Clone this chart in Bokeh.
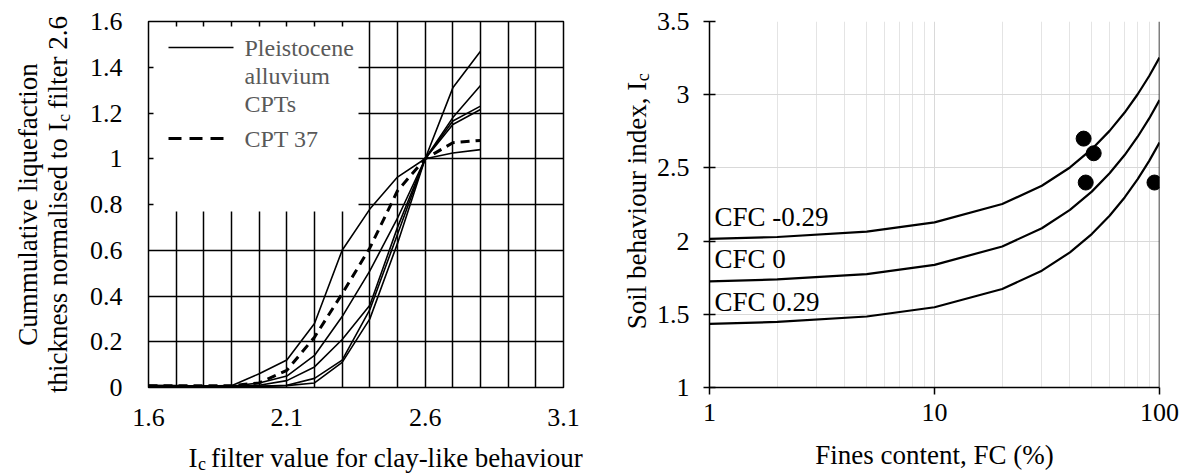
import math
from bokeh.plotting import figure
from bokeh.models import (FixedTicker, CustomJSTickFormatter, Label, BoxAnnotation,
                          Arrow, Span, Range1d)
from bokeh.layouts import row
from bokeh.embed import file_html
from bokeh.resources import INLINE

# ---------------- data: left chart ----------------
ic_filter = [1.6, 1.7, 1.8, 1.9, 2.0, 2.1, 2.2, 2.3, 2.4, 2.5, 2.6, 2.7, 2.8]
cpt_a = [0.010, 0.008, 0.006, 0.008, 0.060, 0.120, 0.280, 0.600, 0.780, 0.920, 1.0, 1.025, 1.040]
cpt_b = [0.005, 0.005, 0.005, 0.005, 0.020, 0.050, 0.140, 0.310, 0.510, 0.740, 1.0, 1.180, 1.320]
cpt_c = [0.005, 0.005, 0.005, 0.005, 0.010, 0.030, 0.090, 0.210, 0.360, 0.700, 1.0, 1.310, 1.470]
cpt_d = [0.005, 0.005, 0.005, 0.005, 0.005, 0.010, 0.040, 0.120, 0.340, 0.670, 1.0, 1.150, 1.215]
cpt_e = [0.005, 0.005, 0.005, 0.005, 0.005, 0.008, 0.020, 0.110, 0.300, 0.630, 1.0, 1.165, 1.230]
pleistocene_cpts = [cpt_a, cpt_b, cpt_c, cpt_d, cpt_e]
cpt37 = [0.008, 0.008, 0.008, 0.008, 0.020, 0.075, 0.220, 0.410, 0.610, 0.860, 1.0, 1.070, 1.080]
left_x_ticks = [1.6, 2.1, 2.6, 3.1]
left_x_grid = [1.6, 1.7, 1.8, 1.9, 2.0, 2.1, 2.2, 2.3, 2.4, 2.5, 2.6, 2.7, 2.8, 2.9, 3.0, 3.1]
left_y_ticks = [0, 0.2, 0.4, 0.6, 0.8, 1.0, 1.2, 1.4, 1.6]
legend_names = ["Pleistocene", "alluvium", "CPTs"]
legend_dash_name = "CPT 37"

# ---------------- data: right chart ----------------
fines_content = [1, 2, 5, 10, 20, 30, 40, 50, 60, 70, 80, 90, 100]
ic_cfc_m029 = [2.015, 2.028, 2.065, 2.128, 2.253, 2.378, 2.503, 2.628, 2.753, 2.878, 3.003, 3.128, 3.253]
ic_cfc_0 = [1.725, 1.738, 1.775, 1.838, 1.963, 2.088, 2.213, 2.338, 2.463, 2.588, 2.713, 2.838, 2.963]
ic_cfc_p029 = [1.435, 1.448, 1.485, 1.548, 1.673, 1.798, 1.923, 2.048, 2.173, 2.298, 2.423, 2.548, 2.673]
cfc_curves = [ic_cfc_m029, ic_cfc_0, ic_cfc_p029]
cfc_names = ["CFC -0.29", "CFC 0", "CFC 0.29"]
point_fc = [46, 51, 47, 95]
point_ic = [2.7, 2.6, 2.4, 2.4]
right_x_ticks = [1, 10, 100]
right_x_minor = [2, 3, 4, 5, 6, 7, 8, 9, 20, 30, 40, 50, 60, 70, 80, 90]
right_y_ticks = [1, 1.5, 2, 2.5, 3, 3.5]

FONT = "Liberation Serif"
TICK_PX = 26
TITLE_PX = 27
SUB_PX = 18
NB = "\u00a0"

# Times-compatible advance widths (1/1000 em)
W = {' ': 250, NB: 250, '.': 250, ',': 250, '-': 333, '(': 333, ')': 333, '%': 833,
     'C': 667, 'F': 556, 'I': 333, 'P': 556, 'S': 556, 'T': 611,
     'a': 444, 'b': 500, 'c': 444, 'd': 500, 'e': 444, 'f': 333, 'h': 500, 'i': 278,
     'k': 500, 'l': 278, 'm': 778, 'n': 500, 'o': 500, 'q': 500, 'r': 333, 's': 389,
     't': 278, 'u': 500, 'v': 500, 'x': 500, 'y': 500}


def tw(s, px):
    return sum(W.get(ch, 500) for ch in s) / 1000.0 * px


def side_label(p, side, x, y, dx, dy, text, size, angle=0.0, align="left",
               baseline="alphabetic", color="black"):
    """Label anchored at a data corner of the frame, offset in pixels, placed in a side panel."""
    p.add_layout(Label(x=x, y=y, x_offset=dx, y_offset=dy, text=text,
                       text_font=FONT, text_font_size=f"{size}px", text_color=color,
                       text_align=align, text_baseline=baseline, angle=angle), side)


fmt = CustomJSTickFormatter(code="return Number(tick.toFixed(2)).toString();")

# ================= LEFT FIGURE =================
p1 = figure(width=600, height=473, x_range=Range1d(1.6, 3.1), y_range=Range1d(0, 1.6),
            output_backend="svg", toolbar_location=None,
            min_border_left=148, min_border_right=37, min_border_top=21, min_border_bottom=86)
p1.background_fill_color = "white"
p1.border_fill_color = "white"
p1.outline_line_color = "black"
p1.outline_line_width = 1.5
p1.xaxis.ticker = FixedTicker(ticks=left_x_ticks)
p1.yaxis.ticker = FixedTicker(ticks=left_y_ticks)
p1.xgrid.ticker = FixedTicker(ticks=left_x_grid)
p1.ygrid.ticker = FixedTicker(ticks=left_y_ticks)
for g in (p1.xgrid, p1.ygrid):
    g.grid_line_color = "black"
    g.grid_line_width = 1.5
for ax in (p1.xaxis, p1.yaxis):
    ax.axis_line_color = None
    ax.major_tick_line_color = None
    ax.minor_tick_line_color = None
    ax.major_label_text_font = FONT
    ax.major_label_text_font_size = f"{TICK_PX}px"
    ax.major_label_text_color = "black"
    ax.formatter = fmt
p1.xaxis.major_label_standoff = 15
p1.yaxis.major_label_standoff = 20

for ys in pleistocene_cpts:
    p1.line(ic_filter, ys, line_color="black", line_width=1.6)
p1.line(ic_filter, cpt37, line_color="black", line_width=3, line_dash="9 6")

# legend box (white, borderless, covering the grid)
p1.add_layout(BoxAnnotation(left=5, right=210, bottom=176, top=361,
                            left_units="screen", right_units="screen",
                            bottom_units="screen", top_units="screen",
                            fill_color="white", fill_alpha=1.0, line_color=None))
p1.add_layout(Arrow(x_start=20, y_start=340, x_end=85, y_end=340,
                    start_units="screen", end_units="screen", start=None, end=None,
                    line_color="black", line_width=1.6))
p1.add_layout(Arrow(x_start=20, y_start=249, x_end=78, y_end=249,
                    start_units="screen", end_units="screen", start=None, end=None,
                    line_color="black", line_width=3, line_dash="13 8"))
for i, nm in enumerate(legend_names):
    p1.add_layout(Label(x=96, y=340 - 28 * i, x_units="screen", y_units="screen", text=nm,
                        text_font=FONT, text_font_size="24px", text_color="#595959",
                        text_baseline="middle"))
p1.add_layout(Label(x=96, y=249, x_units="screen", y_units="screen", text=legend_dash_name,
                    text_font=FONT, text_font_size="24px", text_color="#595959",
                    text_baseline="middle"))

X0, Y0 = left_x_ticks[0], left_y_ticks[0]
# x title: "I" + subscript c + rest
xt_dx, xt_dy = 40, -70
side_label(p1, "below", X0, Y0, xt_dx, xt_dy, "I" + NB + NB + "filter value for clay-like behaviour", TITLE_PX)
side_label(p1, "right", X0, Y0, xt_dx + tw("I", TITLE_PX) + 0.5, xt_dy - 6, "c", SUB_PX)

# y title, two rotated lines
mid = 183
side_label(p1, "left", X0, Y0, -121, mid, "Cummulative liquefaction", TITLE_PX,
           angle=math.pi / 2, align="center")
l2a = "thickness normalised to I"
l2 = l2a + NB + NB + "filter 2.6"
l2_start = mid - tw(l2, TITLE_PX) / 2
side_label(p1, "left", X0, Y0, -91, l2_start, l2, TITLE_PX, angle=math.pi / 2)
side_label(p1, "right", X0, Y0, -91 + 6, l2_start + tw(l2a, TITLE_PX) + 0.5, "c", SUB_PX,
           angle=math.pi / 2)

# ================= RIGHT FIGURE =================
p2 = figure(width=586, height=473, x_axis_type="log", x_range=Range1d(1, 100), y_range=Range1d(1, 3.5),
            output_backend="svg", toolbar_location=None,
            min_border_left=109, min_border_right=27, min_border_top=17, min_border_bottom=85)
p2.background_fill_color = "white"
p2.border_fill_color = "white"
p2.outline_line_color = None
p2.xaxis.ticker = FixedTicker(ticks=right_x_ticks, minor_ticks=right_x_minor)
p2.xgrid.ticker = FixedTicker(ticks=right_x_ticks, minor_ticks=right_x_minor)
p2.yaxis.ticker = FixedTicker(ticks=right_y_ticks)
p2.ygrid.ticker = FixedTicker(ticks=right_y_ticks)
p2.xgrid.grid_line_color = "#d9d9d9"
p2.xgrid.minor_grid_line_color = "#e4e4e4"
p2.ygrid.grid_line_color = "#d9d9d9"
for ax in (p2.xaxis, p2.yaxis):
    ax.axis_line_color = "black"
    ax.axis_line_width = 1.5
    ax.major_tick_line_color = "black"
    ax.major_tick_line_width = 1.5
    ax.minor_tick_line_color = None
    ax.major_label_text_font = FONT
    ax.major_label_text_font_size = f"{TICK_PX}px"
    ax.major_label_text_color = "black"
    ax.formatter = fmt
p2.xaxis.major_tick_in = 0
p2.xaxis.major_tick_out = 7
p2.yaxis.major_tick_in = 6
p2.yaxis.major_tick_out = 6
p2.xaxis.major_label_standoff = 9
p2.yaxis.major_label_standoff = 14
p2.add_layout(Span(location=right_x_ticks[-1], dimension="height", line_color="black", line_width=1.5))

for ys in cfc_curves:
    p2.line(fines_content, ys, line_color="black", line_width=2.2)
p2.scatter(point_fc, point_ic, size=15, marker="circle", fill_color="black", line_color="black")

for nm, ys in zip(cfc_names, cfc_curves):
    p2.add_layout(Label(x=fines_content[0], y=ys[0], x_offset=5, y_offset=22, text=nm,
                        text_font=FONT, text_font_size=f"{TITLE_PX}px", text_color="black",
                        text_align="left", text_baseline="middle"))

RX0, RY0 = right_x_ticks[0], right_y_ticks[0]
side_label(p2, "below", RX0, RY0, 225, -67, "Fines content, FC (%)", TITLE_PX, align="center")
rt_a = "Soil behaviour index, I"
r_start = 186 - (tw(rt_a, TITLE_PX) + tw("c", SUB_PX)) / 2
side_label(p2, "left", RX0, RY0, -73, r_start, rt_a, TITLE_PX, angle=math.pi / 2)
side_label(p2, "right", RX0, RY0, -67, r_start + tw(rt_a, TITLE_PX) + 0.5, "c", SUB_PX,
           angle=math.pi / 2)

layout = row(p1, p2)
open("out.html", "w").write(file_html(layout, INLINE))
